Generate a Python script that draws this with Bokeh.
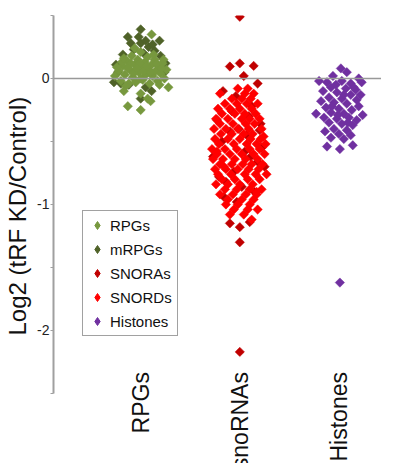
import math
from bokeh.plotting import figure
from bokeh.models import FixedTicker, Span, Label, LegendItem, Legend
from bokeh.embed import file_html
from bokeh.resources import INLINE

categories = ["RPGs", "snoRNAs", "Histones"]
y_ticks = [-2, -1, 0]
y_minor_ticks = [-2.5, -1.5, -0.5, 0.5]
y_tick_labels = {-2: "-2", -1: "-1", 0: "0"}
y_axis_bounds = (-2.5, 0.5)
y_title = "Log2 (tRF KD/Control)"

# RPGs (category 1): horizontal jitter offset and log2 value
rpg_dx = [-0.26, -0.22, -0.20, -0.18, -0.16, -0.14, -0.12, -0.11, -0.09, -0.08,
          -0.06, -0.05, -0.03, -0.02, 0.00, 0.01, 0.02, 0.04, 0.05, 0.07,
          0.08, 0.09, 0.11, 0.12, 0.14, 0.15, 0.17, 0.18, 0.20, 0.22,
          0.24, 0.26, -0.24, -0.19, -0.15, -0.10, -0.07, -0.01, 0.03, 0.06,
          0.10, 0.13, 0.16, 0.19, 0.21, -0.13, -0.04, 0.00, -0.17, 0.23,
          0.11, -0.17, 0.00, 0.07, -0.13, 0.00, 0.10, 0.28, -0.06]
rpg_val = [0.02, 0.06, -0.02, 0.10, 0.03, 0.14, -0.04, 0.07, 0.18, 0.01,
           0.11, -0.03, 0.15, 0.05, 0.21, 0.09, -0.01, 0.13, 0.03, 0.17,
           0.07, -0.04, 0.11, 0.02, 0.15, 0.06, -0.02, 0.10, 0.04, 0.12,
           0.00, 0.07, 0.09, 0.13, -0.06, 0.12, 0.04, 0.12, 0.06, 0.10,
           0.05, 0.19, 0.12, -0.05, 0.08, 0.08, 0.08, 0.00, 0.16, 0.15,
           0.35, -0.10, -0.12, -0.16, -0.22, -0.25, -0.18, -0.07, 0.24]

# mRPGs (category 1)
mrpg_dx = [0.00, 0.19, -0.13, -0.10, 0.00, -0.07, 0.08, 0.14, -0.18, 0.20,
           0.25, -0.27, -0.23, -0.20, 0.05, 0.11, 0.00, -0.12, 0.24, -0.25,
           0.05, -0.02, 0.12, 0.03]
mrpg_val = [0.39, 0.30, 0.33, 0.28, 0.28, 0.23, 0.25, 0.22, 0.19, 0.18,
            0.12, -0.03, 0.05, -0.04, -0.07, -0.10, -0.16, -0.05, 0.05, 0.11,
            0.30, 0.33, 0.27, 0.20]

# SNORAs (category 2)
snora_dx = [0.00, -0.10, 0.00, 0.14, 0.04, 0.18, -0.17, -0.04, -0.23, 0.20,
            0.22, -0.01, 0.12, -0.10, -0.27, 0.05, 0.18, -0.18, 0.09, -0.06,
            0.25, -0.14, 0.02, 0.15, -0.21, -0.03, 0.11, 0.21, -0.08, -0.10,
            0.00, 0.10, 0.00, 0.00, 0.07, -0.16]
snora_val = [0.49, 0.095, 0.12, 0.10, 0.02, -0.04, -0.10, -0.14, -0.33, -0.41,
             -0.55, -0.40, -0.22, -0.42, -0.62, -0.58, -0.66, -0.50, -0.30, -0.74,
             -0.70, -0.82, -0.86, -0.90, -0.78, -0.98, -0.62, -0.36, -0.26, -1.15,
             -1.18, -1.14, -1.30, -2.17, -0.45, -0.94]

# SNORDs (category 2)
snord_dx = [-0.02, 0.08, -0.20, 0.05, 0.14, -0.08, 0.02, 0.11, -0.15, -0.03,
            0.07, 0.18, -0.22, -0.10, 0.00, 0.12, -0.18, -0.05, 0.05, 0.16,
            -0.24, -0.12, 0.02, 0.10, 0.20, -0.20, -0.07, 0.06, 0.15, -0.26,
            -0.14, -0.02, 0.09, 0.22, -0.19, -0.08, 0.04, 0.13, -0.25, -0.12,
            0.00, 0.11, 0.21, -0.21, -0.06, 0.07, 0.17, 0.26, -0.28, -0.15,
            -0.03, 0.10, 0.20, -0.23, -0.10, 0.02, 0.14, 0.25, -0.27, -0.17,
            -0.05, 0.06, 0.18, -0.20, -0.08, 0.03, 0.12, 0.23, -0.25, -0.14,
            -0.02, 0.09, 0.19, -0.22, -0.09, 0.05, 0.16, 0.27, -0.18, -0.05,
            0.08, 0.20, -0.24, -0.12, 0.00, 0.13, -0.15, -0.03, 0.10, 0.22,
            -0.20, -0.07, 0.06, 0.17, -0.12, 0.02, 0.14, -0.14, -0.02, 0.10,
            -0.06, 0.08, 0.18, -0.10, 0.04, 0.12, -0.23, 0.24, -0.16, 0.17]
snord_val = [-0.08, -0.08, -0.12, -0.12, -0.12, -0.16, -0.16, -0.16, -0.20, -0.20,
             -0.20, -0.20, -0.24, -0.24, -0.24, -0.24, -0.28, -0.28, -0.28, -0.28,
             -0.32, -0.32, -0.32, -0.32, -0.32, -0.36, -0.36, -0.36, -0.36, -0.40,
             -0.40, -0.40, -0.40, -0.40, -0.44, -0.44, -0.44, -0.44, -0.48, -0.48,
             -0.48, -0.48, -0.48, -0.52, -0.52, -0.52, -0.52, -0.52, -0.56, -0.56,
             -0.56, -0.56, -0.56, -0.60, -0.60, -0.60, -0.60, -0.60, -0.64, -0.64,
             -0.64, -0.64, -0.64, -0.68, -0.68, -0.68, -0.68, -0.68, -0.72, -0.72,
             -0.72, -0.72, -0.72, -0.76, -0.76, -0.76, -0.76, -0.76, -0.80, -0.80,
             -0.80, -0.80, -0.84, -0.84, -0.84, -0.84, -0.88, -0.88, -0.88, -0.88,
             -0.92, -0.92, -0.92, -0.92, -0.96, -0.96, -0.96, -1.00, -1.00, -1.00,
             -1.04, -1.04, -1.04, -1.08, -1.08, -1.12, -0.58, -0.46, -0.70, -0.90]

# Histones (category 3)
hist_dx = [0.02, 0.08, -0.06, 0.20, -0.20, -0.12, 0.03, 0.12, 0.23, -0.08,
           0.07, 0.17, -0.16, -0.02, 0.12, 0.22, -0.10, 0.03, 0.18, -0.18,
           -0.05, 0.08, 0.20, -0.13, 0.00, 0.13, -0.23, -0.08, 0.05, 0.24,
           -0.15, -0.02, 0.10, 0.18, -0.10, 0.03, 0.14, -0.05, 0.08, -0.14,
           0.00, 0.12, -0.08, 0.05, -0.12, 0.01, 0.14, -0.03, 0.05, -0.07,
           0.09, -0.01, 0.15, 0.01]
hist_val = [0.08, 0.05, 0.02, 0.00, -0.02, -0.03, -0.02, -0.04, -0.03, -0.07,
            -0.08, -0.09, -0.10, -0.11, -0.13, -0.13, -0.15, -0.16, -0.17, -0.18,
            -0.19, -0.20, -0.22, -0.23, -0.24, -0.25, -0.28, -0.27, -0.28, -0.29,
            -0.31, -0.32, -0.31, -0.33, -0.35, -0.36, -0.37, -0.40, -0.41, -0.42,
            -0.44, -0.45, -0.47, -0.48, -0.54, -0.56, -0.53, -0.05, -0.13, -0.22,
            -0.35, -0.29, -0.07, -1.62]

colors = {"RPGs": "#77983e", "mRPGs": "#4f6228", "SNORAs": "#c00000",
          "SNORDs": "#ff0000", "Histones": "#7030a0"}

p = figure(width=381, height=463, x_range=(0.12, 3.43), y_range=(-3.056, 0.5),
           output_backend="svg", toolbar_location=None,
           min_border_left=53, min_border_right=0, min_border_top=15,
           min_border_bottom=0)
p.outline_line_color = None
p.grid.visible = False
p.xaxis.visible = False

p.add_layout(Span(location=0, dimension="width", line_color="#999999", line_width=1.6))

def draw(dx, vals, cat, color, label):
    xs = [cat + d for d in dx]
    p.scatter(xs, vals, marker="square", angle=math.pi / 4, size=6.6,
              fill_color=color, line_color=color, line_width=0.5)
    # legend swatch: a diamond on the first point, drawn at zero size in the plot
    sw = p.scatter(xs[:1], vals[:1], marker="diamond", size=0,
                   fill_color=color, line_color=color)
    return LegendItem(label=label, renderers=[sw])

it_m = draw(mrpg_dx, mrpg_val, 1, colors["mRPGs"], "mRPGs")
it_r = draw(rpg_dx, rpg_val, 1, colors["RPGs"], "RPGs")
it_a = draw(snora_dx, snora_val, 2, colors["SNORAs"], "SNORAs")
it_d = draw(snord_dx, snord_val, 2, colors["SNORDs"], "SNORDs")
it_h = draw(hist_dx, hist_val, 3, colors["Histones"], "Histones")

leg = Legend(items=[it_r, it_m, it_a, it_d, it_h], location=(29, 127))
leg.border_line_color = "#444444"
leg.border_line_width = 1
leg.padding = 4
leg.margin = 0
leg.spacing = 4
leg.label_height = 20
leg.glyph_height = 20
leg.glyph_width = 20
leg.label_standoff = 3
leg.label_width = 63
leg.label_text_font = "Liberation Sans"
leg.label_text_font_size = "15px"
leg.label_text_color = "#111111"
p.add_layout(leg, "center")

ya = p.yaxis[0]
ya.bounds = y_axis_bounds
ya.ticker = FixedTicker(ticks=y_ticks, minor_ticks=y_minor_ticks)
ya.major_label_overrides = y_tick_labels
ya.axis_line_color = "#a0a0a0"
ya.axis_line_width = 2
ya.major_tick_line_color = "#a0a0a0"
ya.minor_tick_line_color = "#a0a0a0"
ya.major_tick_out = 3
ya.major_tick_in = 0
ya.minor_tick_out = 3
ya.minor_tick_in = 0
ya.major_label_standoff = 1
ya.major_label_text_font = "Liberation Sans"
ya.major_label_text_font_size = "14px"
ya.major_label_text_color = "#222222"
# the title is centred on the whole frame; non-breaking spaces lift it to the axis centre
ya.axis_label = "\u00a0" * 7 + y_title
ya.axis_label_text_font = "Liberation Sans"
ya.axis_label_text_font_size = "24px"
ya.axis_label_text_font_style = "normal"
ya.axis_label_text_color = "#111111"
ya.axis_label_standoff = 3

for i, name in enumerate(categories):
    p.add_layout(Label(x=i + 1, y=-2.33, text=name, angle=math.pi / 2,
                       text_align="right", text_baseline="middle",
                       text_font="Liberation Sans", text_font_size="23px",
                       text_color="#111111"))

open("out.html", "w").write(file_html(p, INLINE))
